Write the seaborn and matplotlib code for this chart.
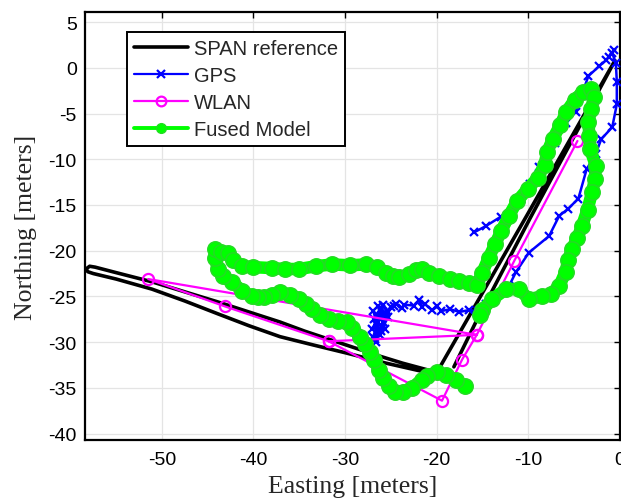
import matplotlib
matplotlib.use("Agg")
import matplotlib.pyplot as plt
from matplotlib.lines import Line2D
import pandas as pd
import seaborn as sns

# SPAN reference trajectory (Easting / Northing in meters)
span_east = [-18.1, -15.7, -9.8, -0.5, -10.1, -19.9, -21.1, -25.5, -29.8, -33.5, -37.1,
             -40.5, -43.9, -47.5, -51.1, -55.0, -57.5, -58.1, -58.3, -57.9, -57.3,
             -55.0, -51.1, -47.5, -43.9, -40.5, -37.1, -34.4, -31.7, -29.0, -26.3,
             -23.7, -21.1, -20.3]
span_north = [-32.7, -27.8, -16.5, 0.8, -16.1, -33.2, -33.3, -32.3, -31.2, -30.3, -29.4,
              -28.2, -26.9, -25.5, -24.2, -23.1, -22.5, -22.3, -22.0, -21.7, -21.8,
              -22.4, -23.4, -24.5, -25.6, -26.7, -27.8, -28.8, -29.7, -30.6, -31.5,
              -32.3, -33.0, -33.2]

# GPS track
gps_east = [-26.6, -26.9, -26.3, -27.0, -26.1, -26.7, -25.8, -26.9, -26.2, -25.5, -26.6,
            -25.9, -26.8, -25.6, -26.4, -25.3, -26.1, -25.0, -25.9, -24.6, -25.4, -24.4,
            -23.8, -23.5, -22.5, -21.9, -21.6, -21.3, -20.5, -19.9, -19.5, -18.5, -17.5,
            -16.5, -15.5, -14.6, -13.5, -12.1, -11.3, -9.9, -7.7, -6.6, -5.6, -4.5, -3.6,
            -2.6, -2.0, -0.8, -0.3, -0.3, -0.4, -0.8, -1.2, -0.6, -1.5, -2.2, -3.4, -4.8,
            -5.8, -7.0, -8.8, -9.8, -10.8, -13.0, -14.6, -15.9]
gps_north = [-30.0, -29.4, -27.2, -28.6, -26.4, -29.7, -27.8, -26.6, -29.2, -26.8, -28.0,
             -25.9, -27.5, -28.6, -26.1, -27.3, -28.8, -26.2, -27.0, -26.0, -26.6, -25.8,
             -26.3, -25.9, -26.0, -25.4, -26.2, -25.8, -26.5, -26.1, -26.6, -26.4, -26.7,
             -26.5, -26.6, -25.8, -25.0, -23.9, -22.3, -20.2, -18.4, -16.2, -15.4, -14.3,
             -11.1, -9.4, -7.8, -6.5, -4.0, -1.5, 0.5, 1.6, 1.2, 1.9, 0.8, 0.2, -0.9, -4.8,
             -6.0, -8.2, -10.8, -12.7, -14.3, -16.3, -17.3, -18.0]

# WLAN position fixes
wlan_east = [-4.6, -11.5, -15.6, -51.5, -43.1, -31.8, -15.6, -17.2, -19.4, -31.8]
wlan_north = [-8.0, -21.1, -29.2, -23.1, -26.1, -29.9, -29.2, -31.9, -36.4, -29.9]

# Fused model estimate
fused_east = [-16.9, -17.9, -19.0, -20.0, -21.0, -21.6, -22.7, -23.7, -24.5, -25.2, -25.8,
              -26.3, -26.8, -27.3, -27.8, -28.4, -29.2, -29.8, -30.8, -31.7, -32.7, -33.6,
              -34.3, -35.0, -36.0, -37.1, -38.0, -38.8, -39.5, -40.2, -41.2, -42.4, -43.3,
              -43.9, -44.2, -44.2, -43.5, -42.8, -42.2, -41.3, -40.0, -38.0, -36.6, -35.0,
              -33.2, -31.4, -29.5, -27.7, -26.5, -25.5, -24.8, -24.1, -23.0, -22.2, -21.6,
              -20.8, -19.7, -18.5, -17.5, -16.5, -15.6, -15.0, -14.3, -13.6, -12.9, -12.1,
              -11.2, -10.0, -8.9, -8.2, -7.9, -7.3, -6.5, -5.8, -4.9, -4.0, -3.1, -2.8,
              -3.1, -3.4, -3.3, -3.2, -2.6, -2.7, -3.0, -3.5, -4.1, -4.6, -5.2, -5.6, -5.9,
              -6.6, -7.5, -8.5, -9.9, -11.0, -12.4, -13.9, -15.0, -15.3]
fused_north = [-34.8, -34.1, -33.6, -33.3, -33.7, -34.1, -35.0, -35.4, -35.4, -34.8, -33.9,
               -33.0, -32.0, -31.1, -30.2, -29.4, -28.4, -27.8, -27.7, -27.5, -27.0, -26.4,
               -25.8, -25.3, -24.8, -24.5, -24.8, -25.1, -25.1, -25.0, -24.4, -23.4, -22.8,
               -22.0, -20.8, -19.8, -20.1, -20.3, -21.0, -21.7, -21.8, -21.9, -22.0, -22.0,
               -21.7, -21.5, -21.6, -21.5, -21.8, -22.4, -22.8, -22.9, -22.6, -22.1, -22.0,
               -22.4, -22.8, -23.1, -23.3, -23.5, -23.8, -22.4, -20.8, -19.3, -17.8, -16.2,
               -14.6, -13.2, -12.0, -10.6, -9.2, -7.8, -6.3, -4.8, -3.5, -2.6, -2.3, -3.2,
               -4.5, -5.9, -7.5, -8.9, -10.7, -12.2, -13.6, -15.5, -17.3, -18.6, -19.8,
               -21.0, -22.3, -23.9, -24.7, -25.0, -25.3, -24.2, -24.2, -25.3, -26.5, -27.0]

x_ticks = [-50, -40, -30, -20, -10, 0]
y_ticks = [5, 0, -5, -10, -15, -20, -25, -30, -35, -40]

sns.set_theme(style="whitegrid", rc={
    "grid.color": "#e4e4e4",
    "grid.linewidth": 0.9,
    "axes.edgecolor": "black",
    "axes.linewidth": 1.6,
    "xtick.direction": "in",
    "ytick.direction": "in",
    "xtick.major.size": 4,
    "ytick.major.size": 4,
    "xtick.major.width": 1.0,
    "ytick.major.width": 1.0,
    "xtick.color": "black",
    "ytick.color": "black",
    "xtick.top": True,
    "ytick.right": True,
})
plt.rcParams["font.family"] = ["Liberation Sans", "DejaVu Sans"]
plt.rcParams["axes.unicode_minus"] = False

fig = plt.figure(figsize=(6.21, 5.02), dpi=100)
ax = fig.add_axes([0.137, 0.1215, 0.8614, 0.8526])

span_df = pd.DataFrame({"east": span_east, "north": span_north})
gps_df = pd.DataFrame({"east": gps_east, "north": gps_north})
wlan_df = pd.DataFrame({"east": wlan_east, "north": wlan_north})
fused_df = pd.DataFrame({"east": fused_east, "north": fused_north})

sns.lineplot(data=span_df, x="east", y="north", sort=False, estimator=None, ax=ax,
             color="black", linewidth=2.6, solid_joinstyle="round", zorder=3)
sns.lineplot(data=gps_df, x="east", y="north", sort=False, estimator=None, ax=ax,
             color="#0000ff", linewidth=1.8, marker="x", markersize=6,
             markeredgewidth=1.6, markeredgecolor="#0000ff", zorder=4)
sns.lineplot(data=wlan_df, x="east", y="north", sort=False, estimator=None, ax=ax,
             color="#ff00ff", linewidth=1.6, marker="o", markersize=8,
             markerfacecolor="none", markeredgecolor="#ff00ff", markeredgewidth=1.6,
             zorder=5)
sns.lineplot(data=fused_df, x="east", y="north", sort=False, estimator=None, ax=ax,
             color="#00ff00", linewidth=9, marker="o", markersize=11,
             markerfacecolor="#00ff00", markeredgecolor="#22dd22", markeredgewidth=1.2,
             solid_joinstyle="round", solid_capstyle="round", zorder=6)

ax.set_xlim(-58.4, 0.05)
ax.set_ylim(-40.7, 6.1)
ax.set_xticks(x_ticks)
ax.set_yticks(y_ticks)
ax.set_xticklabels([str(v) for v in x_ticks])
ax.set_yticklabels([str(v) for v in y_ticks])
ax.tick_params(axis="both", labelsize=14, pad=6)
ax.tick_params(axis="x", pad=8)

serif = ["Liberation Serif", "DejaVu Serif"]
ax.set_xlabel("Easting [meters]", fontsize=18.5, family=serif, labelpad=5)
ax.set_ylabel("Northing [meters]", fontsize=18.5, family=serif, labelpad=8)

handles = [
    Line2D([], [], color="black", linewidth=2.6),
    Line2D([], [], color="#0000ff", linewidth=1.6, marker="x", markersize=6,
           markeredgewidth=1.6),
    Line2D([], [], color="#ff00ff", linewidth=1.6, marker="o", markersize=7,
           markerfacecolor="none", markeredgewidth=1.6),
    Line2D([], [], color="#00ff00", linewidth=2.8, marker="o", markersize=7,
           markerfacecolor="#00ff00", markeredgecolor="#22dd22"),
]
labels = ["SPAN reference", "GPS", "WLAN", "Fused Model"]
leg = ax.legend(handles, labels, loc="upper left", bbox_to_anchor=(0.078, 0.953),
                borderaxespad=0, fontsize=14.5, handlelength=2.7, handletextpad=0.3,
                labelspacing=0.4, borderpad=0.35, fancybox=False, framealpha=1,
                edgecolor="black")
leg.get_frame().set_linewidth(1.4)
leg.set_zorder(10)

fig.savefig("out.png", dpi=100)
